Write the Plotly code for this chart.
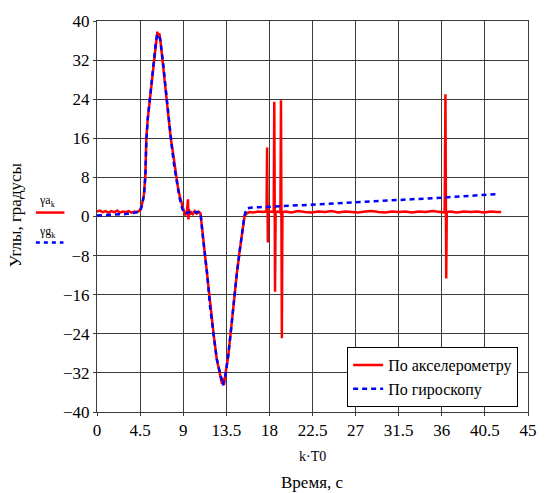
import plotly.graph_objects as go

# ---- data ----
t_acc = [0.0, 0.3, 0.6, 0.9, 1.2, 1.5, 1.8, 2.1, 2.4, 2.7, 3.0, 3.3, 3.6, 3.9, 4.2, 4.5,
         4.7, 4.9, 5.05, 5.15, 5.3, 5.5, 5.7, 5.85, 6.0, 6.1, 6.2, 6.3, 6.4, 6.5, 6.6, 6.7,
         6.85, 7.0, 7.2, 7.4, 7.55, 7.7, 7.9, 8.1, 8.25, 8.45, 8.65, 8.85, 9.0, 9.2, 9.4,
         9.5, 9.55, 9.6, 9.7, 9.8, 10.0, 10.2, 10.4, 10.6, 10.8, 11.1, 11.5, 11.8, 12.2,
         12.5, 12.9, 13.05, 13.15, 13.25, 13.4, 13.7, 14.0, 14.3, 14.6, 14.9, 15.2, 15.4,
         15.6, 15.9, 16.3, 16.8, 17.3, 17.7, 17.76, 17.84, 17.9, 18.2, 18.45, 18.51, 18.59,
         18.65, 18.9, 19.15, 19.21, 19.3, 19.36, 19.7, 20.3, 21.0, 21.7, 22.4, 23.1, 23.8,
         24.5, 25.2, 25.9, 26.6, 27.3, 28.0, 28.7, 29.4, 30.1, 30.8, 31.5, 32.2, 32.9, 33.6,
         34.3, 35.0, 35.7, 36.3, 36.38, 36.46, 36.52, 36.9, 37.6, 38.3, 39.0, 39.7, 40.4,
         41.1, 41.8, 42.2]
a_acc = [1.0, 1.2, 0.9, 1.1, 0.8, 1.1, 0.9, 1.2, 0.8, 1.0, 0.9, 1.1, 0.8, 1.0, 0.9, 1.3,
         2.5, 4.5, 8.5, 16.0, 20.0, 23.5, 27.5, 30.3, 33.5, 35.0, 36.5, 37.8, 36.8, 37.5,
         36.4, 34.5, 32.3, 29.0, 25.5, 21.5, 18.8, 16.0, 13.5, 10.5, 8.2, 6.0, 4.1, 2.5,
         1.4, 0.2, 1.2, 3.5, -0.6, 1.5, 0.3, 1.0, 0.5, 1.1, 0.6, 1.0, 0.7, -4.9, -11.7,
         -18.4, -24.5, -29.1, -32.5, -34.2, -33.0, -34.5, -32.5, -28.5, -23.0, -17.0,
         -11.7, -7.0, -2.3, 0.0, 0.6, 0.9, 0.8, 1.0, 0.9, 1.0, 14.1, -5.3, 0.9, 1.0,
         0.9, 23.5, -15.4, 0.9, 1.0, 0.8, 23.8, -24.9, 0.9, 1.0, 0.8, 1.1, 0.9, 0.8,
         1.0, 0.9, 1.1, 0.8, 1.0, 0.9, 0.8, 1.0, 1.1, 0.9, 0.8, 1.0, 0.9, 1.0, 0.8, 1.0,
         0.9, 1.1, 0.9, 0.8, 25.0, -12.7, 0.9, 1.0, 0.8, 1.0, 0.9, 1.0, 0.8, 1.0, 0.9,
         0.9]

t_gyr = [0.0, 1.0, 2.0, 3.0, 4.0, 4.5, 4.7, 4.9, 5.05, 5.15, 5.3, 5.5, 5.7, 5.85, 6.0,
         6.15, 6.3, 6.45, 6.6, 6.75, 6.9, 7.1, 7.3, 7.55, 7.8, 8.05, 8.3, 8.6, 8.9, 9.2,
         9.6, 10.0, 10.4, 10.8, 11.1, 11.5, 11.8, 12.2, 12.5, 12.9, 13.15, 13.4, 13.7,
         14.0, 14.3, 14.6, 14.9, 15.2, 15.4, 15.6, 16.0, 17.0, 18.5, 20.0, 22.3, 24.0,
         26.0, 28.0, 30.9, 33.0, 34.5, 36.4, 38.0, 40.0, 41.8]
a_gyr = [0.2, 0.3, 0.4, 0.5, 0.8, 1.0, 2.3, 4.3, 8.3, 15.5, 20.0, 23.5, 27.5, 30.3,
         33.5, 35.8, 37.3, 37.0, 36.2, 34.0, 31.5, 27.5, 23.5, 18.8, 14.5, 10.5, 7.5, 4.0,
         1.6, 0.6, 0.9, 0.8, 0.9, 0.8, -4.9, -11.7, -18.4, -24.5, -29.1, -32.5, -34.5,
         -32.5, -28.5, -23.0, -17.0, -11.7, -7.0, -2.3, 0.2, 1.6, 1.8, 1.9, 2.1, 2.2, 2.4,
         2.6, 2.8, 3.0, 3.4, 3.6, 3.7, 3.9, 4.1, 4.4, 4.6]

x_ticks = [0, 4.5, 9, 13.5, 18, 22.5, 27, 31.5, 36, 40.5, 45]
x_ticklabels = ["0", "4.5", "9", "13.5", "18", "22.5", "27", "31.5", "36", "40.5", "45"]
y_ticks = [-40, -32, -24, -16, -8, 0, 8, 16, 24, 32, 40]

name_acc = "По акселерометру"
name_gyr = "По гироскопу"

# ---- figure ----
W, H = 549, 493
L, R, T, B = 97, 15, 15, 81
PW, PH = W - L - R, H - T - B


def px(x):
    return (x - L) / PW


def py(y):
    return (H - B - y) / PH


FONT = "Liberation Serif, Times New Roman, serif"
GRID = "#3c3c3c"

fig = go.Figure()
fig.add_trace(go.Scatter(x=t_acc, y=a_acc, mode="lines", name=name_acc,
                         line=dict(color="#ff0000", width=2.5)))
fig.add_trace(go.Scatter(x=t_gyr, y=a_gyr, mode="lines", name=name_gyr,
                         line=dict(color="#0000ff", width=2.5, dash="5px,4px")))

fig.update_layout(
    width=W, height=H,
    margin=dict(l=L, r=R, t=T, b=B),
    paper_bgcolor="white", plot_bgcolor="white",
    font=dict(family=FONT, size=17, color="black"),
    showlegend=True,
    legend=dict(x=px(524), y=py(407), xanchor="right", yanchor="bottom",
                bgcolor="white", bordercolor="black", borderwidth=1,
                font=dict(family=FONT, size=16, color="black"),
                itemwidth=30, tracegroupgap=0),
    xaxis=dict(range=[0, 45], tickvals=x_ticks, ticktext=x_ticklabels,
               showgrid=True, gridcolor=GRID, gridwidth=1,
               showline=True, linecolor=GRID, linewidth=1, mirror=True,
               ticks="outside", ticklen=3, tickcolor=GRID,
               zeroline=False, tickfont=dict(family=FONT, size=17)),
    yaxis=dict(range=[-40, 40], tickvals=y_ticks,
               showgrid=True, gridcolor=GRID, gridwidth=1,
               showline=True, linecolor=GRID, linewidth=1, mirror=True,
               ticks="outside", ticklen=3, tickcolor=GRID,
               zeroline=False, tickfont=dict(family=FONT, size=17)),
)

ann = [
    dict(text="Углы, градусы", x=px(14), y=py(212), textangle=-90, size=17),
    dict(text="k·T0", x=px(316), y=py(457), textangle=0, size=14),
    dict(text="Время, с", x=px(315), y=py(484), textangle=0, size=17),
    dict(text="γa<sub>k</sub>", x=px(47), y=py(198), textangle=0, size=12),
    dict(text="γg<sub>k</sub>", x=px(47), y=py(229), textangle=0, size=12),
]
for a in ann:
    fig.add_annotation(text=a["text"], x=a["x"], y=a["y"], xref="paper", yref="paper",
                       showarrow=False, textangle=a["textangle"],
                       font=dict(family=FONT, size=a["size"], color="black"),
                       xanchor="center", yanchor="middle")

fig.add_shape(type="line", xref="paper", yref="paper", x0=px(35), x1=px(64),
              y0=py(209.5), y1=py(209.5), line=dict(color="#ff0000", width=2.5))
fig.add_shape(type="line", xref="paper", yref="paper", x0=px(35), x1=px(63),
              y0=py(240), y1=py(240), line=dict(color="#0000ff", width=2.5, dash="4px,4px"))

fig.write_html("out.html", config={"displayModeBar": False})

# remove the default page margin so the figure sits at the window's top-left corner
with open("out.html", "r", encoding="utf-8") as f:
    html = f.read()
html = html.replace("<head>", "<head><style>html,body{margin:0;padding:0;overflow:hidden}</style>", 1)
with open("out.html", "w", encoding="utf-8") as f:
    f.write(html)
